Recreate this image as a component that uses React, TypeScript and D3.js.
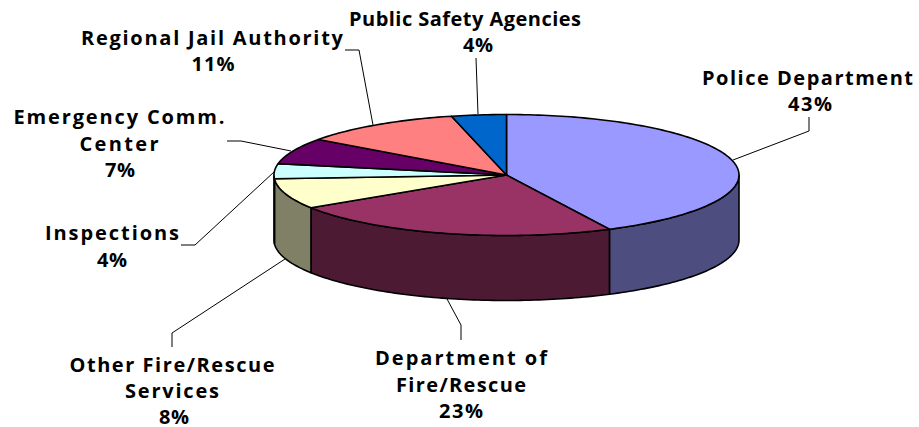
import React from "react";
import * as d3 from "d3";

const categories = ["Police Department", "Department of Fire/Rescue", "Other Fire/Rescue Services", "Inspections", "Emergency Comm. Center", "Regional Jail Authority", "Public Safety Agencies"];
const shares = [42.7, 23.2, 8.1, 4, 7, 11.2, 3.8];
const topColors = ["#9999ff", "#993366", "#ffffcc", "#ccffff", "#660066", "#ff8080", "#0066cc"];
const sideColors = ["#4d4d80", "#4d1a33", "#808066", "#668080", "#330033", "#804040", "#003366"];

const labelLines = [
  [{ t: "Police Department", x: 807.5, y: 85, w: 211 }, { t: "43%", x: 810, y: 111, w: 44 }],
  [{ t: "Department of", x: 461, y: 365, w: 172 }, { t: "Fire/Rescue", x: 461, y: 392, w: 130 }, { t: "23%", x: 461, y: 418, w: 44 }],
  [{ t: "Other Fire/Rescue", x: 172, y: 372, w: 205 }, { t: "Services", x: 172, y: 398, w: 94 }, { t: "8%", x: 174, y: 424, w: 30 }],
  [{ t: "Inspections", x: 112, y: 240, w: 134 }, { t: "4%", x: 112, y: 267, w: 30 }],
  [{ t: "Emergency Comm.", x: 119, y: 124, w: 211 }, { t: "Center", x: 119, y: 151, w: 79 }, { t: "7%", x: 120, y: 177, w: 30 }],
  [{ t: "Regional Jail Authority", x: 212, y: 45, w: 262 }, { t: "11%", x: 213, y: 71, w: 43 }],
  [{ t: "Public Safety Agencies", x: 465, y: 26, w: 232 }, { t: "4%", x: 478, y: 52, w: 30 }],
];

const leaders: [number, number][][] = [
  [[733, 160], [809, 131], [809, 117]],
  [[447, 299], [461, 325], [461, 340]],
  [[285, 259], [172, 333], [172, 347]],
  [[274, 172], [195, 245], [181, 245]],
  [[291, 151], [241, 141], [227, 141]],
  [[373, 125], [359, 50], [345, 50]],
  [[478, 114], [476, 58]],
];

const cx = 506.5, cy = 175, rx = 232.5, ry = 60.5, depth = 65;
const pt = (a: number, dy = 0): [number, number] => [cx + rx * Math.sin(a), cy - ry * Math.cos(a) + dy];
const line = d3.line();
const arcPts = (a0: number, a1: number, dy = 0) => {
  const n = Math.max(2, Math.ceil(Math.abs(a1 - a0) / 0.02));
  return d3.range(n + 1).map((i) => pt(a0 + ((a1 - a0) * i) / n, dy));
};

export default function App() {
  const arcs = d3.pie<number>().sort(null)(shares);
  const wallStart = Math.PI / 2, wallEnd = (3 * Math.PI) / 2;
  return (
    <svg width={919} height={427} style={{ position: "absolute", left: 0, top: 0, background: "#fff" }} fontFamily="'Open Sans', sans-serif" fontWeight="bold" fontSize={20}>
      {leaders.map((p, i) => (
        <path key={i} d={line(p) ?? ""} fill="none" stroke="#000" strokeWidth={1} />
      ))}
      {arcs.map((a, i) => {
        const s = Math.max(a.startAngle, wallStart), e = Math.min(a.endAngle, wallEnd);
        if (e <= s) return null;
        const pts = [...arcPts(s, e), ...arcPts(e, s, depth)];
        return <path key={i} d={(line(pts) ?? "") + "Z"} fill={sideColors[i]} stroke="#000" strokeWidth={1.6} strokeLinejoin="round" />;
      })}
      {arcs.map((a, i) => {
        const pts: [number, number][] = [[cx, cy], ...arcPts(a.startAngle, a.endAngle)];
        return <path key={i} d={(line(pts) ?? "") + "Z"} fill={topColors[i]} stroke="#000" strokeWidth={1.6} strokeLinejoin="round" />;
      })}
      {labelLines.map((ls, i) =>
        ls.map((l, j) => (
          <text key={`${i}-${j}`} x={l.x - l.w / 2} y={l.y} textLength={l.w} lengthAdjust="spacing" fill="#000">
            {l.t}
          </text>
        ))
      )}
    </svg>
  );
}
